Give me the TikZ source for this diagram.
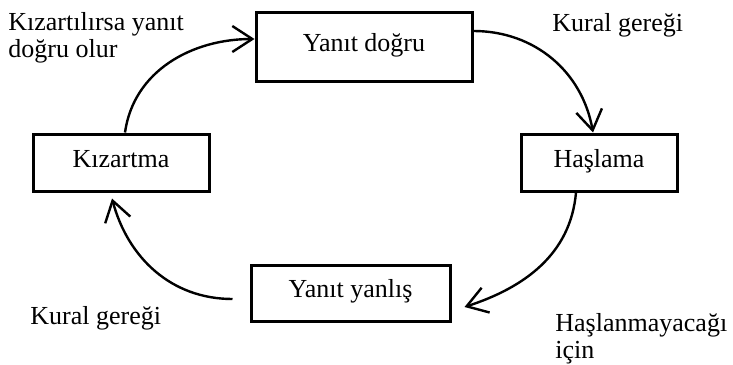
\documentclass[tikz,border=0pt]{standalone}
\usepackage{fontspec}
\setmainfont{Liberation Serif}
\usetikzlibrary{arrows.meta}
\tikzset{
    kutu/.style={draw=black, line width=1.5pt, inner sep=0pt, text height=0.7em, text depth=0.25em, font=\fontsize{13}{14}\selectfont},
    yazi/.style={inner sep=0pt, align=left, font=\fontsize{13}{13.5}\selectfont},
    ok/.style={line width=1.2pt, -{Straight Barb[length=10pt,width=13pt]}},
}
\begin{document}
\begin{tikzpicture}[x=.5pt, y=-.5pt]
    \useasboundingbox (0,0) rectangle (733,364);
    \node[kutu, minimum width=108pt, minimum height=34.5pt] (dogru) at (364,46.5) {Yanıt doğru};
    \node[kutu, minimum width=88pt, minimum height=28.5pt] (kiz) at (121,162.5) {Kızartma};
    \node[kutu, minimum width=78pt, minimum height=28.5pt] (hasl) at (599,162.5) {Haşlama};
    \node[kutu, minimum width=99.5pt, minimum height=28pt] (yanlis) at (350.5,293) {Yanıt yanlış};
    \node[yazi, anchor=north west] (etiket1) at (8,12) {Kızartılırsa yanıt\\doğru olur};
    \node[yazi, anchor=base west] (etiket2) at (552,32) {Kural gereği};
    \node[yazi, anchor=north west] (etiket3) at (555,313) {Haşlanmayacağı\\için};
    \node[yazi, anchor=base west] (etiket4) at (30,324) {Kural gereği};
    \draw[ok] ([xshift=2pt]kiz.north) to[out=82, in=180] ([yshift=3.75pt]dogru.west);
    \draw[ok] ([yshift=7.75pt]dogru.east) to[out=0, in=100] ([xshift=-3pt]hasl.north);
    \draw[ok] ([xshift=-11.5pt]hasl.south) to[out=-95, in=18] ([xshift=6.5pt,yshift=-7pt]yanlis.east);
    \draw[ok] ([xshift=-8.5pt,yshift=-3pt]yanlis.west) to[out=180, in=-75] ([xshift=-4.5pt,yshift=-3pt]kiz.south);
\end{tikzpicture}
\end{document}
